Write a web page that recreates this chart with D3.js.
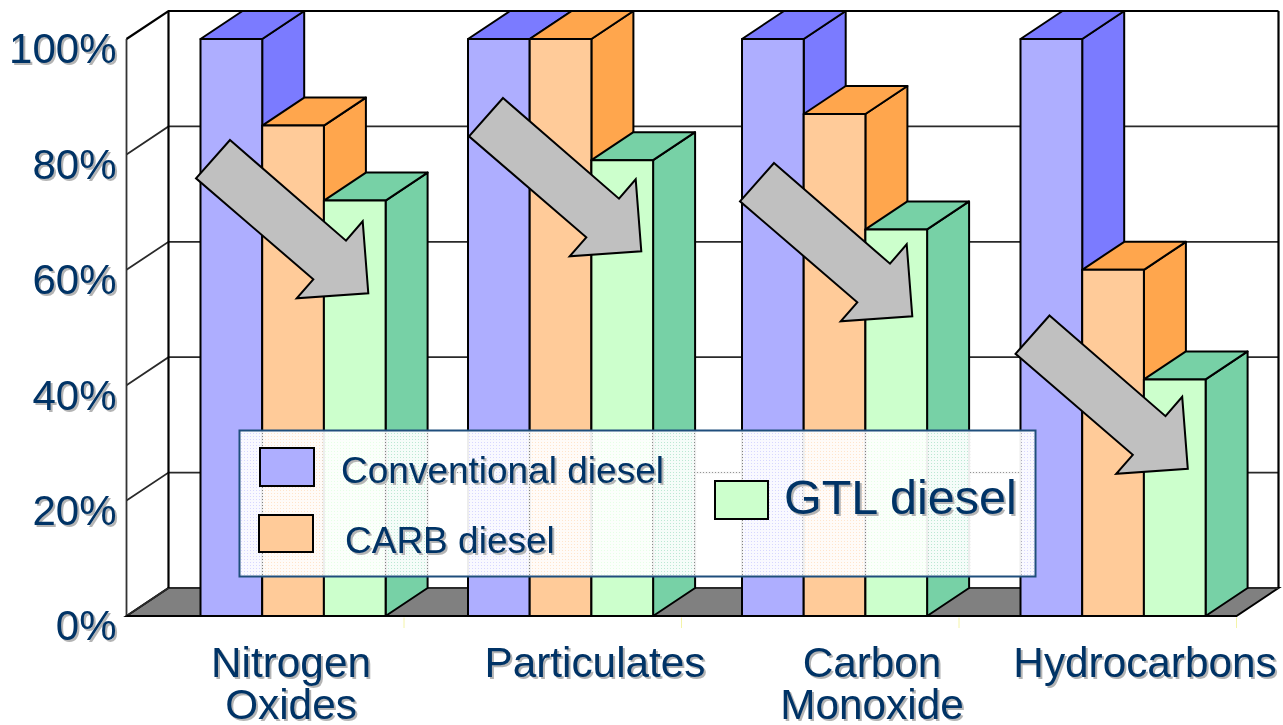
<!DOCTYPE html>
<html>
<head>
<meta charset="utf-8">
<script src="https://cdn.jsdelivr.net/npm/d3@7"></script>
<style>
  html, body { margin: 0; padding: 0; background: #fff; overflow: hidden; }
  text { font-family: "Liberation Sans", Arial, sans-serif; fill: #003366; filter: drop-shadow(2px 2px 0 #b4b4b4); }
</style>
</head>
<body>
<div id="chart"></div>
<script>
// Chart values
const categories = ["Nitrogen Oxides", "Particulates", "Carbon Monoxide", "Hydrocarbons"];
const fuels = ["Conventional diesel", "CARB diesel", "GTL diesel"];
const conventional = [100, 100, 100, 100];
const carb = [85, 100, 87, 60];
const gtl = [72, 79, 67, 41];
const yTicks = [0, 20, 40, 60, 80, 100];
const categoryLines = [["Nitrogen", "Oxides"], ["Particulates"], ["Carbon", "Monoxide"], ["Hydrocarbons"]];

const width = 1283, height = 725;
// 3d offset of the back wall
const depthX = 42, depthY = -28;
const barW = 61.7;

const svg = d3.select("#chart").append("svg")
  .attr("width", width)
  .attr("height", height)
  .style("display", "block");

const y = d3.scaleLinear().domain([0, 100]).range([616, 39]);
// the groups are not evenly spaced in the original, so ordinal scales here
const xGroup = d3.scaleOrdinal().domain(categories).range([200.5, 468, 742, 1020.5]);
const xFuel = d3.scaleBand().domain(fuels).range([0, barW * 3]);
const xLabel = d3.scaleOrdinal().domain(categories).range([291, 595, 872, 1145]);
const xEnd = 1236.5; // front right corner of the floor
const xStart = 126.5;
const xTick = d3.scaleLinear().domain([0, 4]).range([xStart, xEnd]);

const fronts = d3.scaleOrdinal().domain(fuels).range(["#aeaeff", "#ffcb99", "#ccffcc"]);
const sides = d3.scaleOrdinal().domain(fuels).range(["#7b7bff", "#ffa64d", "#77d1a6"]);

function poly(points) {
  return "M" + points.map(function(p) { return p.join(","); }).join("L") + "Z";
}

// floor
svg.append("path")
  .attr("d", poly([[xStart, y(0)], [xStart + depthX, y(0) + depthY], [xEnd + depthX, y(0) + depthY], [xEnd, y(0)]]))
  .attr("fill", "#808080")
  .attr("stroke", "#000")
  .attr("stroke-width", 2);

// back and side wall lines
const walls = svg.append("g").attr("fill", "none");
yTicks.forEach(function(t) {
  const major = t === 100;
  walls.append("path")
    .attr("d", d3.line()([[xStart, y(t)], [xStart + depthX, y(t) + depthY], [xEnd + depthX, y(t) + depthY]]))
    .attr("stroke", major ? "#000" : "#2a2a2a")
    .attr("stroke-width", major ? 2.2 : 1.8);
});
walls.append("line")
  .attr("x1", xStart).attr("x2", xStart).attr("y1", y(0)).attr("y2", y(100))
  .attr("stroke", "#333").attr("stroke-width", 1.8);
[xStart + depthX, xEnd + depthX].forEach(function(xx) {
  walls.append("line")
    .attr("x1", xx).attr("x2", xx).attr("y1", y(0) + depthY).attr("y2", y(100) + depthY)
    .attr("stroke", "#000").attr("stroke-width", 2.2);
});

// bars, left to right so every bar sits over its left neighbour's side
const series = [conventional, carb, gtl];
const bars = [];
categories.forEach(function(c, i) {
  fuels.forEach(function(f, j) {
    bars.push({cat: c, fuel: f, value: series[j][i]});
  });
});

const bar = svg.append("g").selectAll("g")
  .data(bars)
  .join("g")
  .attr("stroke", "#000")
  .attr("stroke-width", 2)
  .attr("stroke-linejoin", "round");

bar.append("path")
  .attr("fill", function(d) { return sides(d.fuel); })
  .attr("d", function(d) {
    const r = xGroup(d.cat) + xFuel(d.fuel) + barW;
    return poly([[r, y(0)], [r + depthX, y(0) + depthY], [r + depthX, y(d.value) + depthY], [r, y(d.value)]]);
  });
bar.append("path")
  .attr("fill", function(d) { return sides(d.fuel); })
  .attr("d", function(d) {
    const l = xGroup(d.cat) + xFuel(d.fuel);
    const t = y(d.value);
    return poly([[l, t], [l + depthX, t + depthY], [l + barW + depthX, t + depthY], [l + barW, t]]);
  });
bar.append("rect")
  .attr("fill", function(d) { return fronts(d.fuel); })
  .attr("x", function(d) { return xGroup(d.cat) + xFuel(d.fuel); })
  .attr("y", function(d) { return y(d.value); })
  .attr("width", barW)
  .attr("height", function(d) { return y(0) - y(d.value); });

// front edge of the floor and the small pale category ticks
svg.append("line")
  .attr("x1", xStart).attr("x2", xEnd).attr("y1", y(0)).attr("y2", y(0))
  .attr("stroke", "#000").attr("stroke-width", 2.2);
svg.append("g").selectAll("line")
  .data([1, 2, 3, 4])
  .join("line")
  .attr("x1", xTick).attr("x2", xTick)
  .attr("y1", y(0) + 1.5).attr("y2", y(0) + 12)
  .attr("stroke", "#f4f4a8").attr("stroke-width", 1);

// the same grey arrow is moved over each group
const arrowShape = [[230, 140], [346, 240.7], [362.7, 221.3], [368.3, 293.3], [296.7, 298.3], [313.3, 279.3], [196, 178.3]];
const arrowShift = [[0, 0], [273, -42], [544, 23], [819.5, 175.5]];
svg.append("g").selectAll("path")
  .data(arrowShift)
  .join("path")
  .attr("d", poly(arrowShape))
  .attr("transform", function(d) { return "translate(" + d[0] + "," + d[1] + ")"; })
  .attr("fill", "#c0c0c0")
  .attr("stroke", "#000")
  .attr("stroke-width", 2)
  .attr("stroke-linejoin", "miter");

// legend box is a dithered near-white, things behind show through
const defs = svg.append("defs");
const dither = defs.append("pattern")
  .attr("id", "dither")
  .attr("width", 3).attr("height", 3)
  .attr("patternUnits", "userSpaceOnUse");
dither.append("path")
  .attr("d", "M0,0H3V3H0Z M1,1V2H2V1Z")
  .attr("fill-rule", "evenodd")
  .attr("fill", "#fff")
  .attr("fill-opacity", 0.93);
dither.append("rect")
  .attr("x", 1).attr("y", 1).attr("width", 1).attr("height", 1)
  .attr("fill", "#fff").attr("fill-opacity", 0.5);

const legend = svg.append("g");
legend.append("rect")
  .attr("x", 239.5).attr("y", 430.5).attr("width", 796).attr("height", 146)
  .attr("fill", "url(#dither)")
  .attr("stroke", "#1f4e7c")
  .attr("stroke-width", 2);

const legendSwatches = [[260, 448, 54, 38], [259, 515, 54, 37], [715, 481, 53, 38]];
const legendLabels = [[341, 483, 37], [345, 553, 37], [784, 514, 48.5]];
legend.selectAll(".swatch")
  .data(fuels)
  .join("rect")
  .attr("class", "swatch")
  .attr("x", function(d, i) { return legendSwatches[i][0]; })
  .attr("y", function(d, i) { return legendSwatches[i][1]; })
  .attr("width", function(d, i) { return legendSwatches[i][2]; })
  .attr("height", function(d, i) { return legendSwatches[i][3]; })
  .attr("fill", fronts)
  .attr("stroke", "#000")
  .attr("stroke-width", 2);
legend.selectAll(".label")
  .data(fuels)
  .join("text")
  .attr("class", "label")
  .attr("x", function(d, i) { return legendLabels[i][0]; })
  .attr("y", function(d, i) { return legendLabels[i][1]; })
  .attr("font-size", function(d, i) { return legendLabels[i][2]; })
  .text(function(d) { return d; });

// y axis labels, only the text of the axis is kept
const yAxis = svg.append("g")
  .attr("transform", "translate(" + xStart + ",0)")
  .call(d3.axisLeft(y).tickValues(yTicks).tickSize(0).tickPadding(10).tickFormat(function(d) { return d + "%"; }));
yAxis.select(".domain").remove();
yAxis.selectAll("text")
  .attr("font-size", 42)
  .attr("font-family", null)
  .attr("dy", "0.57em");

// category labels
const catLabel = svg.append("g").selectAll("text")
  .data(categories)
  .join("text")
  .attr("text-anchor", "middle")
  .attr("font-size", 42.3)
  .attr("y", 677);
catLabel.selectAll("tspan")
  .data(function(d, i) { return categoryLines[i].map(function(s) { return {cat: d, line: s}; }); })
  .join("tspan")
  .attr("x", function(d) { return xLabel(d.cat); })
  .attr("dy", function(d, i) { return i === 0 ? 0 : 42; })
  .text(function(d) { return d.line; });
</script>
</body>
</html>
